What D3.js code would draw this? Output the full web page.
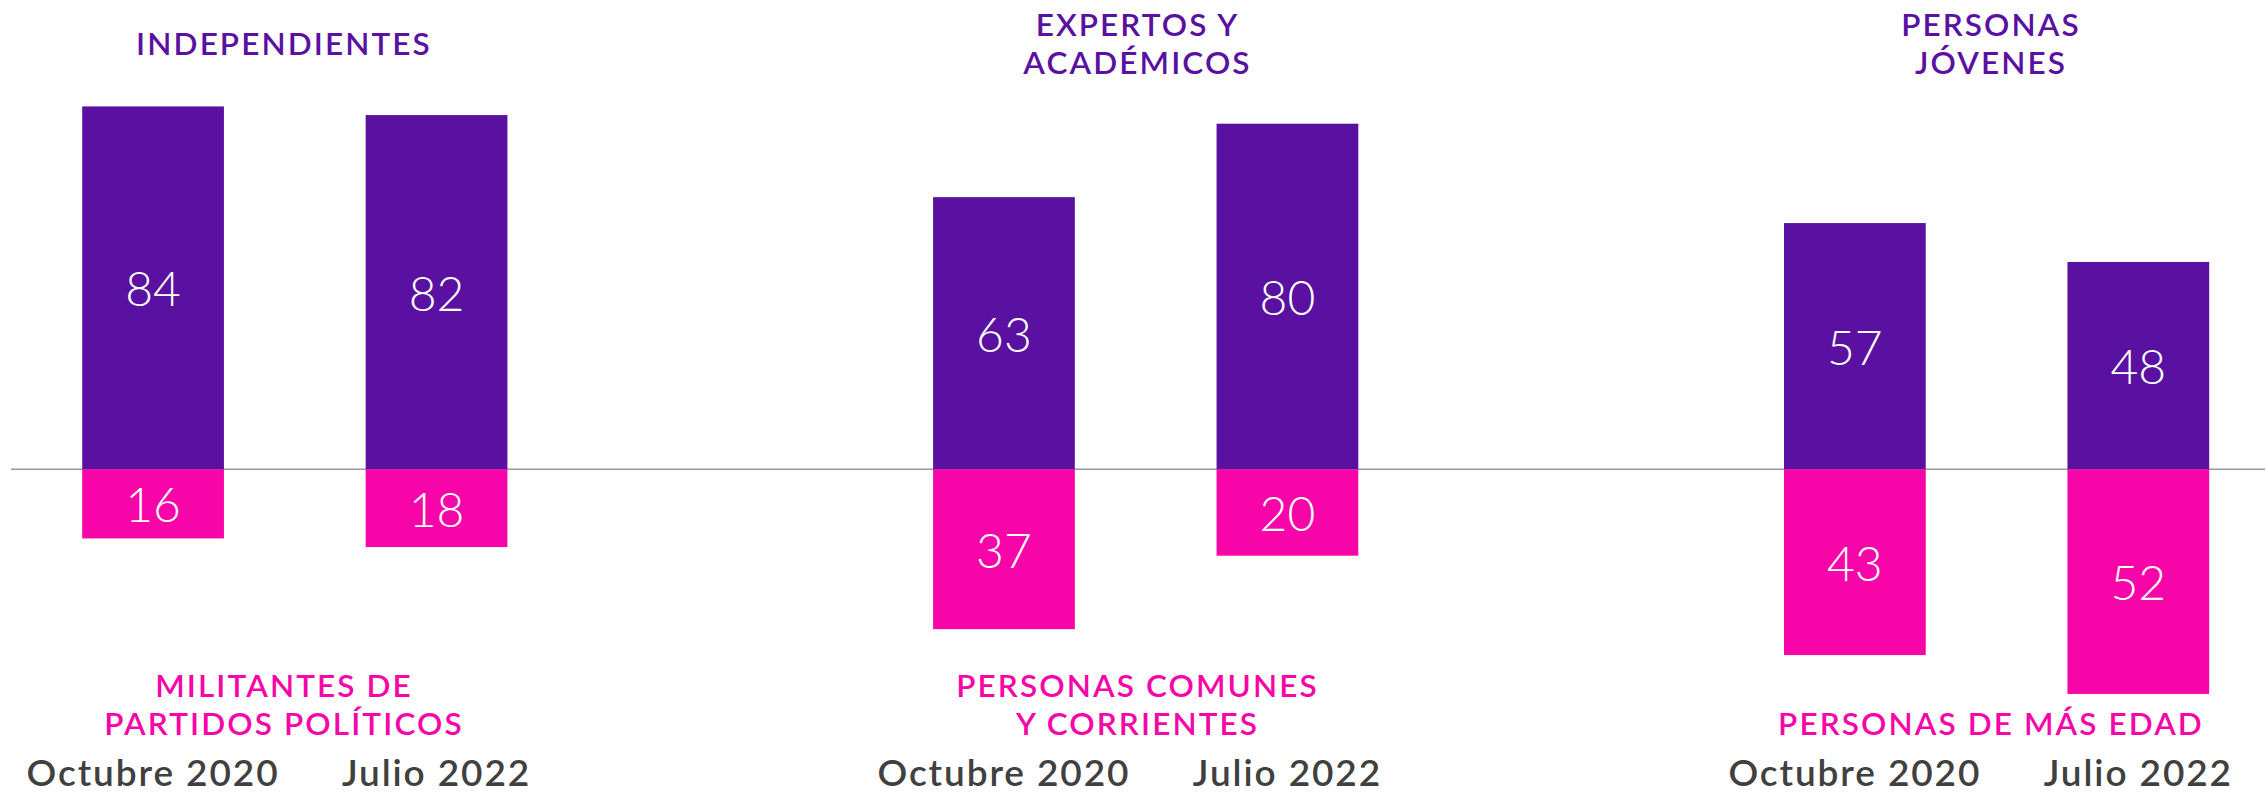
<!DOCTYPE html>
<html lang="es">
<head>
  <meta charset="UTF-8" />
  <title>Confianza por grupo</title>
  <script src="https://cdn.jsdelivr.net/npm/d3@7"></script>
  <style>
    body { margin: 0; background: #fff; }
    svg { display: block; }
    .cat { font-family: Lato, sans-serif; font-weight: 600; font-size: 31.5px; letter-spacing: 2.1px; }
    .val { font-family: Lato, Inter, sans-serif; font-weight: 300; font-size: 48px; fill: #fff; }
    .period { font-family: Lato, sans-serif; font-weight: 600; font-size: 37px; letter-spacing: 1.9px; fill: #404040; }
  </style>
</head>
<body>
<svg id="chart" width="2265" height="794"></svg>
<script>
  // data
  const periods = ["Octubre 2020", "Julio 2022"];
  const topLabels = [["INDEPENDIENTES"], ["EXPERTOS Y", "ACADÉMICOS"], ["PERSONAS", "JÓVENES"]];
  const bottomLabels = [["MILITANTES DE", "PARTIDOS POLÍTICOS"], ["PERSONAS COMUNES", "Y CORRIENTES"], ["PERSONAS DE MÁS EDAD"]];
  const topValues = [[84, 82], [63, 80], [57, 48]];
  const bottomValues = [[16, 18], [37, 20], [43, 52]];

  const purple = "#5a11a2", pink = "#f705a8";
  const W = 2265;
  const base = 469.3;

  const svg = d3.select("#chart");

  const gx = d3.scalePoint().domain(d3.range(topValues.length)).range([294.8, 1996.6]);
  const labelX = d3.scalePoint().domain(d3.range(topValues.length)).range([284, 1991]);
  const bx = d3.scaleBand().domain(periods).range([-212.6, 212.6]).paddingInner(0.5);
  const y = d3.scaleLinear().domain([-100, 100]).range([base + 432, base - 432]);

  // baseline
  svg.append("line")
    .attr("x1", 11).attr("x2", W)
    .attr("y1", base).attr("y2", base)
    .attr("stroke", "#9a9a9a").attr("stroke-width", 1.5);

  const groups = svg.selectAll(".grp")
    .data(topValues.map((t, i) => ({ i, top: t, bottom: bottomValues[i] })))
    .join("g")
    .attr("class", "grp");

  // bars + value labels
  groups.each(function(d) {
    const g = d3.select(this);
    periods.forEach((p, j) => {
      const x0 = gx(d.i) + bx(p);
      const cx = x0 + bx.bandwidth() / 2;
      const t = d.top[j], b = d.bottom[j];
      g.append("rect")
        .attr("x", x0).attr("width", bx.bandwidth())
        .attr("y", y(t)).attr("height", y(0) - y(t))
        .attr("fill", purple);
      g.append("rect")
        .attr("x", x0).attr("width", bx.bandwidth())
        .attr("y", y(0)).attr("height", y(-b) - y(0))
        .attr("fill", pink);
      g.append("text").attr("class", "val")
        .attr("x", cx).attr("y", (y(t) + y(0)) / 2)
        .attr("text-anchor", "middle").attr("dominant-baseline", "central")
        .text(t);
      g.append("text").attr("class", "val")
        .attr("x", cx).attr("y", (y(-b) + y(0)) / 2)
        .attr("text-anchor", "middle").attr("dominant-baseline", "central")
        .text(b);
      g.append("text").attr("class", "period")
        .attr("x", cx).attr("y", 786)
        .attr("text-anchor", "middle")
        .text(p);
    });
  });

  // category labels
  const lh = 38;
  topLabels.forEach((lines, i) => {
    lines.forEach((l, k) => {
      svg.append("text").attr("class", "cat")
        .attr("x", labelX(i))
        .attr("y", 55 + (k - (lines.length - 1) / 2) * lh)
        .attr("text-anchor", "middle")
        .attr("fill", purple)
        .text(l);
    });
  });
  bottomLabels.forEach((lines, i) => {
    lines.forEach((l, k) => {
      svg.append("text").attr("class", "cat")
        .attr("x", labelX(i))
        .attr("y", 735 - (lines.length - 1 - k) * lh)
        .attr("text-anchor", "middle")
        .attr("fill", pink)
        .text(l);
    });
  });
</script>
</body>
</html>
